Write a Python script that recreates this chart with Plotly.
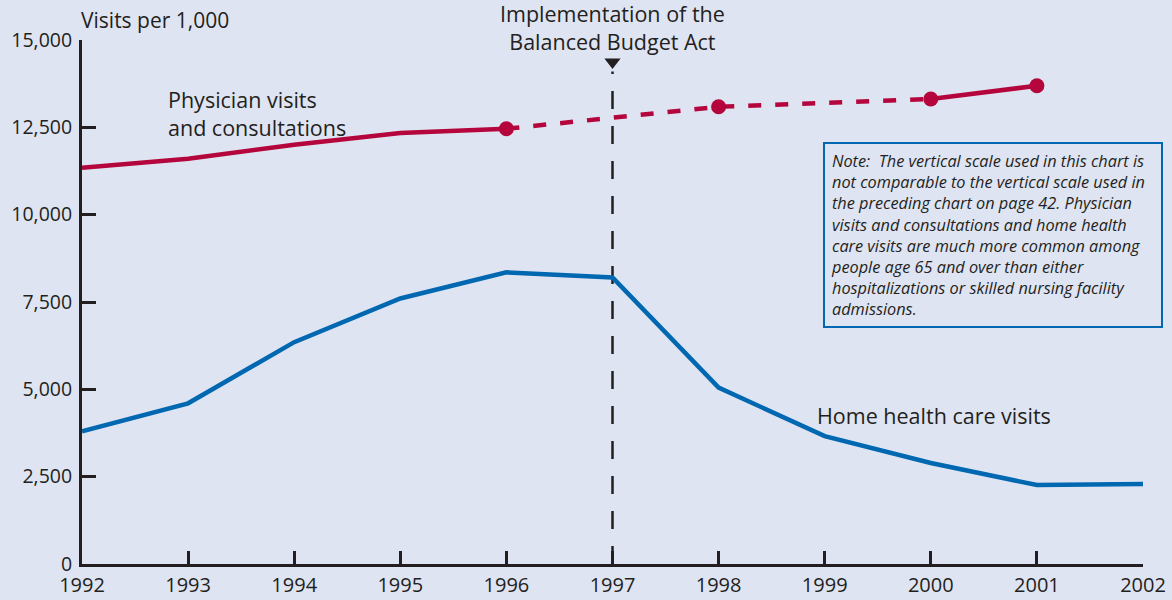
import plotly.graph_objects as go

years = [1992, 1993, 1994, 1995, 1996, 1997, 1998, 1999, 2000, 2001, 2002]

# home health care visits per 1,000
home_health = [3800, 4600, 6350, 7600, 8350, 8200, 5050, 3660, 2890, 2260, 2290]

# physician visits, split into the solid and dashed stretches
phys_years_a = [1992, 1993, 1994, 1995, 1996]
phys_vals_a = [11340, 11600, 12000, 12340, 12460]
phys_years_b = [1996, 1998, 2000]
phys_vals_b = [12460, 13090, 13310]
phys_years_c = [2000, 2001]
phys_vals_c = [13310, 13690]
phys_marker_years = [1996, 1998, 2000, 2001]
phys_marker_vals = [12460, 13090, 13310, 13690]

event_year = 1997
y_ticks = [0, 2500, 5000, 7500, 10000, 12500, 15000]
y_labels = ["0", "2,500", "5,000", "7,500", "10,000", "12,500", "15,000"]

RED = "#b4063c"
BLUE = "#0067b1"
INK = "#231f20"
BG = "#dfe4f2"
FONT = "Open Sans"

fig = go.Figure()

# balanced budget act marker line
fig.add_trace(go.Scatter(
    x=[event_year, event_year], y=[0, 14100], mode="lines",
    line=dict(color=INK, width=2.5, dash="18px,17px"),
    hoverinfo="skip", showlegend=False))
fig.add_trace(go.Scatter(
    x=[event_year], y=[14370], mode="markers",
    marker=dict(symbol="triangle-down", size=14, color=INK),
    hoverinfo="skip", showlegend=False))

fig.add_trace(go.Scatter(
    x=years, y=home_health, mode="lines",
    line=dict(color=BLUE, width=4.5), showlegend=False))

fig.add_trace(go.Scatter(
    x=phys_years_a, y=phys_vals_a, mode="lines",
    line=dict(color=RED, width=4.5), showlegend=False))
fig.add_trace(go.Scatter(
    x=phys_years_b, y=phys_vals_b, mode="lines",
    line=dict(color=RED, width=4.5, dash="13px,14px"), showlegend=False))
fig.add_trace(go.Scatter(
    x=phys_years_c, y=phys_vals_c, mode="lines",
    line=dict(color=RED, width=4.5), showlegend=False))
fig.add_trace(go.Scatter(
    x=phys_marker_years, y=phys_marker_vals, mode="markers",
    marker=dict(color=RED, size=15), showlegend=False))

fig.update_layout(
    width=1172, height=600,
    margin=dict(l=82, r=29, t=40, b=36),
    paper_bgcolor=BG, plot_bgcolor=BG,
    font=dict(family=FONT, size=20, color=INK),
)
fig.update_xaxes(
    range=[1992, 2002], tickvals=years, ticktext=[str(y) for y in years],
    showgrid=False, zeroline=False, showline=True, linecolor=INK,
    linewidth=3, ticks="inside", ticklen=13, tickwidth=3, tickcolor=INK,
    tickfont=dict(size=20), ticklabelstandoff=1, automargin=False)
fig.update_yaxes(
    range=[0, 15000], tickvals=y_ticks, ticktext=y_labels,
    showgrid=False, zeroline=False, showline=True, linecolor=INK,
    linewidth=3, ticks="inside", ticklen=14, tickwidth=3, tickcolor=INK,
    tickfont=dict(size=19.5), ticklabelstandoff=3, automargin=False)

fig.add_annotation(
    text="Visits per 1,000", xref="paper", yref="paper", x=0, y=1,
    xanchor="left", yanchor="middle", xshift=-3, yshift=20,
    showarrow=False, font=dict(size=21))
fig.add_annotation(
    text="Implementation of the<br>Balanced Budget Act",
    x=event_year, xref="x", yref="paper", y=1, yanchor="middle",
    xanchor="center", yshift=13, showarrow=False,
    font=dict(size=21.5), align="center")
fig.add_annotation(
    text="Physician visits<br>and consultations", x=1992.79, y=12900,
    xanchor="left", yanchor="middle", showarrow=False,
    font=dict(size=21.5), align="left")
fig.add_annotation(
    text="Home health care visits", x=1998.91, y=4260,
    xanchor="left", yanchor="middle", showarrow=False, font=dict(size=21.5))

note = ("Note:  The vertical scale used in this chart is<br>"
        "not comparable to the vertical scale used in<br>"
        "the preceding chart on page 42. Physician<br>"
        "visits and consultations and home health<br>"
        "care visits are much more common among<br>"
        "people age 65 and over than either<br>"
        "hospitalizations or skilled nursing facility<br>"
        "admissions.")
fig.add_annotation(
    text="<i>" + note + "</i>", xref="paper", yref="paper",
    x=0.698, y=0.806, xanchor="left", yanchor="top", showarrow=False,
    align="left", font=dict(size=16.3), bordercolor=BLUE, borderwidth=2,
    borderpad=6, bgcolor=BG, width=324)

# drop the page margin so the figure sits flush in the window
fig.write_html(
    "out.html",
    config={"displayModeBar": False},
    post_script="document.body.style.margin='0';"
                "document.body.style.background='" + BG + "';")
